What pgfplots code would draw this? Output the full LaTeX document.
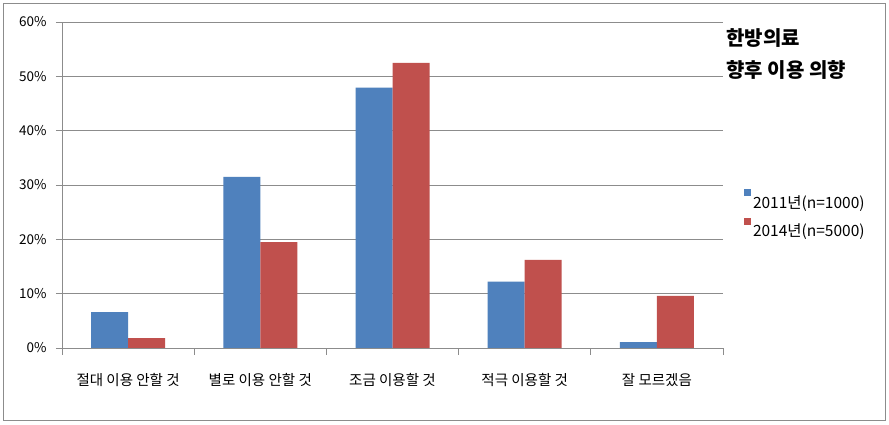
\documentclass[border=0pt]{standalone}
\usepackage{pgfplots}
\pgfplotsset{compat=1.18}
\usepackage{fontspec}
\setmainfont{Noto Sans CJK KR}
\definecolor{sblue}{HTML}{4F81BD}
\definecolor{sred}{HTML}{C0504D}
\definecolor{axgray}{HTML}{8C8C8C}
\begin{document}
\begin{tikzpicture}
\fill[white] (0,0) rectangle (889pt,425pt);
\draw[axgray, line width=1pt] (3pt,4pt) rectangle (885pt,421pt);
\begin{axis}[
  at={(62pt,77pt)}, anchor=south west,
  scale only axis, width=661pt, height=326pt,
  ybar=0pt, bar width=37pt,
  xmin=-0.5, xmax=4.5, ymin=0, ymax=60,
  axis x line*=bottom, axis y line*=left,
  axis line style={axgray, line width=0.8pt},
  xtick={0,1,2,3,4},
  xticklabels={절대 이용 안할 것, 별로 이용 안할 것, 조금 이용할 것, 적극 이용할 것, 잘 모르겠음},
  x tick label style={font=\fontsize{14.5}{16}\selectfont, yshift=-16pt},
  major x tick style={draw=none},
  extra x ticks={-0.5,0.5,1.5,2.5,3.5,4.5},
  extra x tick labels={},
  extra x tick style={tick align=outside, major tick length=7pt, major x tick style={draw=axgray, line width=0.8pt}, xmajorgrids=false},
  ytick={0,10,20,30,40,50,60},
  yticklabel={\pgfmathprintnumber{\tick}\%},
  /pgf/number format/assume math mode=true,
  y tick label style={font=\fontsize{13.5}{15}\selectfont, xshift=-6pt},
  ytick align=outside, major tick length=6pt,
  y tick style={axgray, line width=0.8pt},
  ymajorgrids, grid style={axgray, line width=0.8pt},
  legend style={at={(1.03,0.49)}, anchor=north west, draw=none, fill=none,
    font=\fontsize{15.5}{17}\selectfont, row sep=6pt, inner sep=1pt},
  legend cell align=left,
  legend image code/.code={\fill[#1] (0pt,6pt) rectangle (7pt,13pt);},
  clip=false,
]
\addplot[fill=sblue, draw=none] coordinates {(0,6.6) (1,31.5) (2,47.9) (3,12.2) (4,1.1)};
\addplot[fill=sred, draw=none] coordinates {(0,1.8) (1,19.5) (2,52.5) (3,16.2) (4,9.6)};
\legend{2011년(n=1000), 2014년(n=5000)}
\node[anchor=west, font=\fontsize{20}{22}\selectfont\bfseries] at (rel axis cs:1.0,0.952) {한방의료};
\node[anchor=west, font=\fontsize{20}{22}\selectfont\bfseries] at (rel axis cs:1.0,0.853) {향후 이용 의향};
\end{axis}
\end{tikzpicture}
\end{document}
